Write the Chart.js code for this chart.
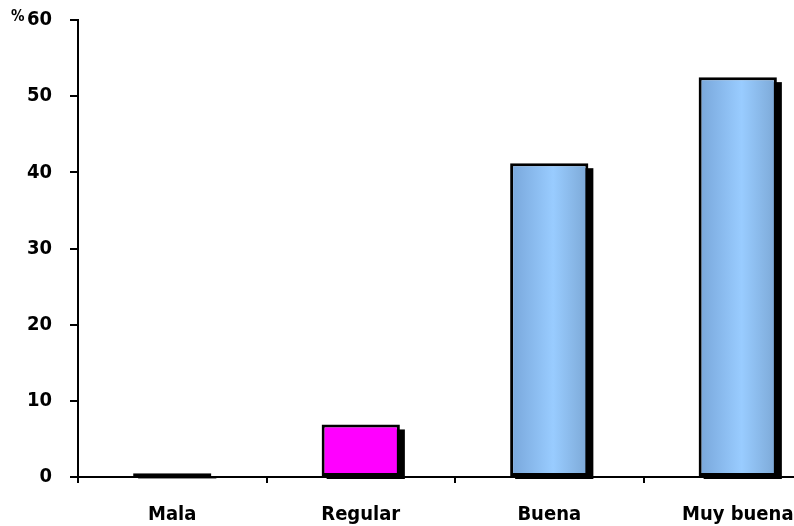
<!DOCTYPE html>
<html>
<head>
<meta charset="utf-8">
<script src="https://cdn.jsdelivr.net/npm/chart.js@4.4.0/dist/chart.umd.min.js"></script>
<style>
  html, body { margin: 0; padding: 0; background: #fff; overflow: hidden; }
  #wrap { width: 834px; height: 526px; }
</style>
</head>
<body>
<div id="wrap"><canvas id="grafico"></canvas></div>
<script>
const categorias = ['Mala', 'Regular', 'Buena', 'Muy buena'];
const porcentajes = [0.5, 6.9, 41.2, 52.5];
const marcasY = [0, 10, 20, 30, 40, 50, 60];

const fuente = '"DejaVu Sans Condensed", "DejaVu Sans", sans-serif';
const anchoBarra = 0.83, anchoCategoria = 0.5;

// degradado horizontal para las barras azules
function rellenoBarra(ctx) {
  const chart = ctx.chart;
  const i = ctx.dataIndex;
  if (i === 0) return '#222222';
  if (i === 1) return '#ff00ff';
  const x = chart.scales.x;
  if (!chart.chartArea || !x) return '#99ccff';
  const centro = x.getPixelForValue(i);
  const medio = (x.width / categorias.length) * anchoBarra * anchoCategoria / 2;
  const g = chart.ctx.createLinearGradient(centro - medio, 0, centro + medio, 0);
  g.addColorStop(0, '#78a6da');
  g.addColorStop(0.55, '#99ccff');
  g.addColorStop(1, '#7ca8d6');
  return g;
}

// sombra negra desplazada detrás de cada barra
const sombra = {
  id: 'sombra',
  beforeDatasetsDraw(chart) {
    const c = chart.ctx;
    const meta = chart.getDatasetMeta(0);
    c.save();
    meta.data.forEach((bar, i) => {
      const x = bar.x - bar.width / 2 + 5;
      const top = Math.min(bar.y, bar.base) + 5;
      const h = Math.abs(bar.base - bar.y) - 2;
      c.fillStyle = i === 0 ? '#777777' : '#000000';
      c.fillRect(x, top, bar.width, h);
    });
    c.restore();
  },
  afterDraw(chart) {
    const c = chart.ctx;
    c.save();
    c.fillStyle = '#000';
    c.font = 'bold 15px ' + fuente;
    c.textBaseline = 'alphabetic';
    c.fillText('%', 11, 21);
    c.restore();
  }
};

new Chart(document.getElementById('grafico'), {
  type: 'bar',
  data: {
    labels: categorias,
    datasets: [{
      data: porcentajes,
      backgroundColor: rellenoBarra,
      borderColor: '#000',
      borderWidth: 3,
      borderSkipped: false,
      barPercentage: anchoBarra,
      categoryPercentage: anchoCategoria
    }]
  },
  options: {
    responsive: true,
    maintainAspectRatio: false,
    animation: false,
    layout: { padding: { left: 0, right: 2, top: 20, bottom: 0 } },
    plugins: { legend: { display: false }, tooltip: { enabled: false } },
    scales: {
      x: {
        afterFit(scale) { scale.height = 49; },
        grid: { display: true, offset: true, drawOnChartArea: false, drawTicks: true, tickLength: 6, color: '#000', lineWidth: 2 },
        border: { color: '#000', width: 2 },
        ticks: { color: '#000', padding: 20, maxRotation: 0, font: { family: fuente, size: 20, weight: 'bold' } }
      },
      y: {
        min: 0,
        max: 60,
        afterFit(scale) { scale.width = 78; scale.paddingTop = 0; scale.paddingBottom = 0; },
        afterBuildTicks(scale) { scale.ticks = marcasY.map(v => ({ value: v })); },
        grid: { display: true, drawOnChartArea: false, drawTicks: true, tickLength: 8, color: '#000', lineWidth: 2 },
        border: { color: '#000', width: 2 },
        ticks: { color: '#000', padding: 18, font: { family: fuente, size: 20, weight: 'bold' } }
      }
    }
  },
  plugins: [sombra]
});
</script>
</body>
</html>
